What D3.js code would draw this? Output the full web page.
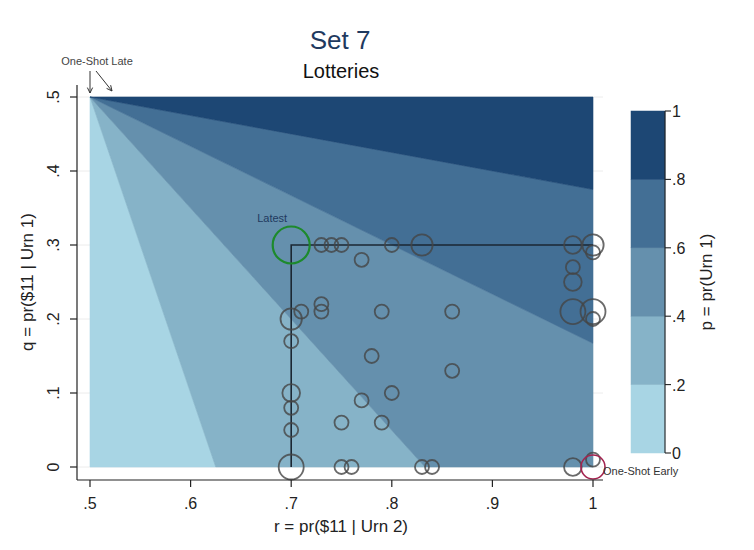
<!DOCTYPE html>
<html>
<head>
<meta charset="utf-8">
<script src="https://cdn.jsdelivr.net/npm/d3@7"></script>
<style>
  body { margin: 0; background: #fff; }
  svg { display: block; font-family: Arial, "Liberation Sans", sans-serif; }
</style>
</head>
<body>
<svg id="chart" width="754" height="550"></svg>
<script>
// ---------- data ----------
const levels = [0, 0.2, 0.4, 0.6, 0.8, 1];
const bandColors = ["#a8d5e4", "#86b3c8", "#6590ad", "#436f95", "#1d4774"];
// where each iso-line of p meets the border of the (r,q) square, all from vertex (0.5, 0.5)
const isoEdgeR = [0.5, 0.625, 0.833, 1.0, 1.0, 1.0];
const isoEdgeQ = [0.0, 0.0, 0.0, 0.167, 0.375, 0.5];
const vertexR = 0.5, vertexQ = 0.5;

// subjects' choices (r, q, count)
const subjR = [0.73, 0.74, 0.75, 0.80, 0.83, 0.98, 1.00, 1.00, 0.77, 0.98, 0.98, 0.98, 1.00, 1.00,
               0.70, 0.71, 0.73, 0.73, 0.79, 0.86, 0.70, 0.78, 0.86, 0.70, 0.80, 0.77, 0.70, 0.75,
               0.79, 0.70, 0.70, 0.75, 0.76, 0.83, 0.84, 0.98, 1.00];
const subjQ = [0.30, 0.30, 0.30, 0.30, 0.30, 0.30, 0.30, 0.29, 0.28, 0.27, 0.25, 0.21, 0.21, 0.20,
               0.20, 0.21, 0.22, 0.21, 0.21, 0.21, 0.17, 0.15, 0.13, 0.10, 0.10, 0.09, 0.08, 0.06,
               0.06, 0.05, 0.00, 0.00, 0.00, 0.00, 0.00, 0.00, 0.01];
const subjN = [1, 1, 1, 1, 3, 2, 3, 1, 1, 1, 2, 4, 4, 1,
               3, 1, 1, 1, 1, 1, 1, 1, 1, 2, 1, 1, 1, 1,
               1, 1, 4, 1, 1, 1, 1, 2, 1];

// special lotteries
const latestR = 0.7, latestQ = 0.3;
const earlyR = 1.0, earlyQ = 0.0;
const lateR = 0.5, lateQ = 0.5;
// reference lines (the L)
const lineR = [0.7, 0.7, 1.0];
const lineQ = [0.0, 0.3, 0.3];

const xTicks = [0.5, 0.6, 0.7, 0.8, 0.9, 1];
const yTicks = [0, 0.1, 0.2, 0.3, 0.4, 0.5];
const cbTicks = [0, 0.2, 0.4, 0.6, 0.8, 1];
const fmt = v => v === 0 ? "0" : (v === 1 ? "1" : d3.format(".1f")(v).replace(/^0/, ""));

// ---------- layout ----------
const svg = d3.select("#chart");
const x = d3.scaleLinear().domain([0.5, 1]).range([90, 593]);
const y = d3.scaleLinear().domain([0, 0.5]).range([467, 97]);
const axisX0 = 77, axisX1 = 603, axisYbottom = 480, axisYtop = 85;

// gridlines
svg.append("g").selectAll("line").data(yTicks).join("line")
  .attr("x1", axisX0).attr("x2", axisX1)
  .attr("y1", d => y(d)).attr("y2", d => y(d))
  .attr("stroke", "#ececec").attr("stroke-width", 1);

// contour bands
const bands = [];
for (let i = 0; i < levels.length - 1; i++) {
  const pts = [[vertexR, vertexQ], [isoEdgeR[i], isoEdgeQ[i]]];
  if (isoEdgeQ[i] === 0 && isoEdgeR[i + 1] === 1 && isoEdgeQ[i + 1] > 0) pts.push([1, 0]);
  pts.push([isoEdgeR[i + 1], isoEdgeQ[i + 1]]);
  bands.push({ pts, color: bandColors[i] });
}
svg.append("g").selectAll("path").data(bands).join("path")
  .attr("d", d => "M" + d.pts.map(p => [x(p[0]), y(p[1])].join(",")).join("L") + "Z")
  .attr("fill", d => d.color)
  .attr("stroke", d => d.color).attr("stroke-width", 0.6);

// L reference line
svg.append("path")
  .attr("d", d3.line()(lineR.map((r, i) => [x(r), y(lineQ[i])])))
  .attr("fill", "none").attr("stroke", "#1b2733").attr("stroke-width", 1.6);

// subject circles
const rad = d3.scaleLinear().domain([1, 4]).range([7, 12.5]);
svg.append("g").selectAll("circle").data(subjR.map((r, i) => ({ r, q: subjQ[i], n: subjN[i] })))
  .join("circle")
  .attr("cx", d => x(d.r)).attr("cy", d => y(d.q)).attr("r", d => rad(d.n))
  .attr("fill", "none").attr("stroke", "#454545").attr("stroke-opacity", 0.8).attr("stroke-width", 1.8);

// latest
svg.append("circle").attr("cx", x(latestR)).attr("cy", y(latestQ)).attr("r", 18.5)
  .attr("fill", "none").attr("stroke", "#1d8a2c").attr("stroke-width", 2.2);
svg.append("text").attr("x", x(latestR) - 19).attr("y", y(latestQ) - 23)
  .attr("text-anchor", "middle").attr("font-size", 11).attr("fill", "#1f3a5f").text("Latest");

// one-shot early
svg.append("circle").attr("cx", x(earlyR)).attr("cy", y(earlyQ)).attr("r", 12)
  .attr("fill", "none").attr("stroke", "#a3234f").attr("stroke-width", 1.6);
svg.append("text").attr("x", x(earlyR) + 10).attr("y", y(earlyQ) + 8)
  .attr("font-size", 11).attr("fill", "#333").text("One-Shot Early");

// one-shot late
svg.append("text").attr("x", x(lateR) + 7).attr("y", y(lateQ) - 32)
  .attr("text-anchor", "middle").attr("font-size", 11).attr("fill", "#444").text("One-Shot Late");
const arrows = [[[x(lateR), y(lateQ) - 26], [x(lateR), y(lateQ) - 4]],
                [[x(lateR) + 6, y(lateQ) - 26], [x(lateR) + 22, y(lateQ) - 6]]];
arrows.forEach(([a, b]) => {
  const g = svg.append("g").attr("stroke", "#333").attr("stroke-width", 1).attr("fill", "none");
  g.append("line").attr("x1", a[0]).attr("y1", a[1]).attr("x2", b[0]).attr("y2", b[1]);
  const ang = Math.atan2(b[1] - a[1], b[0] - a[0]);
  const L = 6, w = 0.45;
  g.append("path").attr("d", d3.line()([
    [b[0] - L * Math.cos(ang - w), b[1] - L * Math.sin(ang - w)], b,
    [b[0] - L * Math.cos(ang + w), b[1] - L * Math.sin(ang + w)]]));
});

// axes
const axG = svg.append("g").attr("stroke", "#222").attr("stroke-width", 1.2);
axG.append("line").attr("x1", axisX0).attr("x2", axisX0).attr("y1", axisYtop).attr("y2", axisYbottom);
axG.append("line").attr("x1", axisX0).attr("x2", axisX1).attr("y1", axisYbottom).attr("y2", axisYbottom);
axG.selectAll(".xt").data(xTicks).join("line").attr("class", "xt")
  .attr("x1", d => x(d)).attr("x2", d => x(d)).attr("y1", axisYbottom).attr("y2", axisYbottom + 7);
axG.selectAll(".yt").data(yTicks).join("line").attr("class", "yt")
  .attr("x1", axisX0 - 7).attr("x2", axisX0).attr("y1", d => y(d)).attr("y2", d => y(d));

svg.append("g").selectAll("text").data(xTicks).join("text")
  .attr("x", d => x(d)).attr("y", 509).attr("text-anchor", "middle")
  .attr("font-size", 16).attr("fill", "#222").text(fmt);
svg.append("g").selectAll("text").data(yTicks).join("text")
  .attr("transform", d => `translate(59,${y(d)}) rotate(-90)`)
  .attr("text-anchor", "middle").attr("font-size", 16).attr("fill", "#222").text(fmt);

svg.append("text").attr("x", 341).attr("y", 532).attr("text-anchor", "middle")
  .attr("font-size", 17).attr("fill", "#222").text("r = pr($11 | Urn 2)");
svg.append("text").attr("transform", "translate(33,282) rotate(-90)").attr("text-anchor", "middle")
  .attr("font-size", 17).attr("fill", "#222").text("q = pr($11 | Urn 1)");

// titles
svg.append("text").attr("x", 340).attr("y", 49).attr("text-anchor", "middle")
  .attr("font-size", 26).attr("fill", "#1f3a5f").text("Set 7");
svg.append("text").attr("x", 341).attr("y", 78).attr("text-anchor", "middle")
  .attr("font-size", 20).attr("fill", "#111").text("Lotteries");

// colorbar
const cb = d3.scaleLinear().domain([0, 1]).range([453, 111]);
const cbX0 = 631, cbX1 = 665;
svg.append("g").selectAll("rect").data(d3.range(levels.length - 1)).join("rect")
  .attr("x", cbX0).attr("width", cbX1 - cbX0)
  .attr("y", i => cb(levels[i + 1])).attr("height", i => cb(levels[i]) - cb(levels[i + 1]))
  .attr("fill", i => bandColors[i]).attr("stroke", i => bandColors[i]).attr("stroke-width", 0.5);
const cbG = svg.append("g").attr("stroke", "#222").attr("stroke-width", 1.1);
cbG.append("line").attr("x1", cbX1).attr("x2", cbX1).attr("y1", cb(0)).attr("y2", cb(1));
cbG.selectAll("line.t").data(cbTicks).join("line").attr("class", "t")
  .attr("x1", cbX1).attr("x2", cbX1 + 6).attr("y1", d => cb(d)).attr("y2", d => cb(d));
svg.append("g").selectAll("text").data(cbTicks).join("text")
  .attr("x", cbX1 + 7).attr("y", d => cb(d) + 6)
  .attr("font-size", 16).attr("fill", "#222").text(fmt);
svg.append("text").attr("transform", "translate(712,282) rotate(-90)").attr("text-anchor", "middle")
  .attr("font-size", 17).attr("fill", "#222").text("p = pr(Urn 1)");
</script>
</body>
</html>
